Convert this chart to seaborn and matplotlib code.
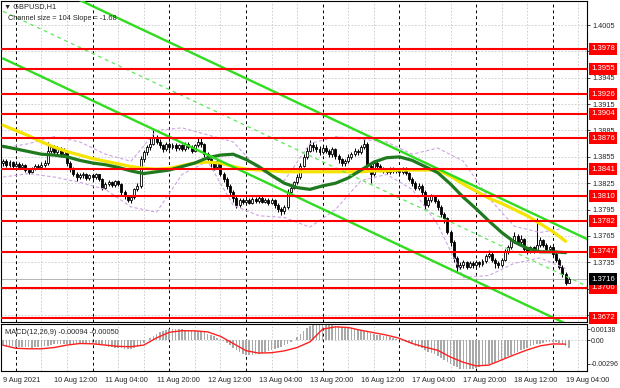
import numpy as np
import matplotlib
matplotlib.use("Agg")
import matplotlib.pyplot as plt
import matplotlib.transforms as mtransforms
import seaborn as sns

# GBPUSD H1, 9 Aug 20:00 .. 19 Aug 05:00 (prices in pips above 1.3700)
base = 1.37
first_open = 148
close_pips = [
    150, 146, 149, 145,
    147, 143, 146, 140, 138, 142, 145, 143, 146, 148, 162, 166, 160, 164, 158, 162, 148, 142, 136, 132, 134, 135, 131, 134,
    132, 135, 130, 120, 124, 126, 123, 127, 124, 115, 110, 106, 109, 118, 122, 152, 160, 166, 170, 178, 172, 168, 164, 170,
    166, 169, 165, 168, 164, 170, 166, 162, 168, 172, 170, 158, 152, 148, 144, 150, 136, 130, 122, 115, 108, 100, 106, 104,
    106, 103, 107, 105, 108, 104, 106, 103, 106, 100, 96, 93, 98, 115, 120, 126, 132, 145, 155, 162, 168, 166, 164, 160,
    165, 162, 158, 164, 156, 152, 148, 150, 155, 158, 162, 160, 166, 170, 145, 135, 148, 145, 142, 140, 138, 141, 139, 140,
    138, 141, 137, 130, 125, 120, 122, 115, 100, 106, 110, 105, 98, 90, 85, 70, 58, 40, 30, 32, 35, 30, 34, 32,
    35, 33, 36, 42, 45, 38, 34, 32, 38, 48, 52, 60, 65, 58, 62, 50, 48, 52, 49, 55, 60, 55, 50, 52,
    45, 38, 30, 22, 12, 16,
]
high_pips = [
    153, 152, 151, 150,
    150, 149, 148, 147, 142, 144, 147, 147, 149, 151, 172, 169, 168, 167, 166, 165, 163, 150, 144, 138, 137, 138, 137, 136,
    136, 137, 136, 131, 126, 129, 128, 129, 129, 125, 117, 112, 111, 120, 125, 156, 163, 168, 176, 185, 180, 175, 170, 172,
    172, 171, 171, 170, 170, 172, 172, 168, 170, 176, 177, 171, 160, 154, 150, 152, 151, 138, 132, 124, 117, 110, 108, 108,
    108, 108, 109, 109, 110, 110, 108, 108, 108, 107, 102, 98, 100, 118, 123, 128, 135, 148, 158, 166, 174, 172, 170, 167,
    168, 168, 164, 166, 165, 158, 154, 153, 158, 161, 165, 164, 169, 178, 172, 148, 151, 150, 147, 144, 142, 143, 143, 142,
    142, 143, 143, 138, 132, 127, 125, 124, 117, 109, 113, 112, 107, 100, 92, 87, 72, 60, 42, 35, 38, 37, 36, 36,
    38, 37, 39, 45, 49, 47, 40, 36, 40, 50, 55, 63, 70, 67, 66, 63, 53, 54, 54, 85, 64, 62, 57, 55,
    54, 47, 40, 32, 24, 18,
]
low_pips = [
    145, 143, 144, 142,
    143, 141, 141, 138, 135, 137, 140, 141, 142, 144, 146, 159, 157, 157, 155, 156, 145, 138, 133, 128, 130, 131, 129, 129,
    129, 130, 127, 117, 118, 122, 121, 121, 122, 112, 107, 104, 103, 107, 116, 120, 149, 157, 163, 168, 170, 165, 161, 162,
    163, 164, 162, 163, 162, 162, 164, 159, 160, 166, 166, 155, 149, 144, 140, 141, 133, 126, 118, 110, 104, 97, 98, 101,
    102, 101, 101, 103, 103, 102, 102, 100, 101, 97, 92, 89, 90, 96, 112, 118, 124, 130, 143, 153, 160, 162, 160, 157,
    158, 159, 155, 155, 153, 148, 145, 145, 148, 153, 156, 157, 158, 164, 140, 125, 133, 142, 139, 137, 136, 136, 137, 137,
    135, 136, 134, 127, 122, 117, 117, 110, 96, 98, 104, 102, 95, 86, 80, 67, 54, 35, 24, 27, 29, 27, 28, 29,
    30, 30, 31, 34, 40, 35, 29, 29, 30, 36, 45, 50, 57, 55, 55, 47, 45, 46, 46, 47, 52, 52, 47, 48,
    42, 35, 27, 18, 9, 11,
]

# MACD main (histogram), units of 1e-5
macd_main = [
    -70, -72, -74, -76, -78,
    -80, -83, -86, -88, -90, -89, -86, -82,
    -76, -66, -58, -52, -48, -46, -45, -46,
    -48, -50, -49, -46, -44, -42, -42, -44,
    -48, -55, -62, -70, -78, -86, -92, -97,
    -100, -104, -106, -104, -96, -80, -56, -28,
    0, 30, 58, 85, 105, 120, 130, 136,
    138, 139, 138, 136, 133, 130, 126, 121,
    115, 108, 98, 85, 70, 52, 34, 15,
    -5, -30, -60, -95, -125, -150, -168, -180,
    -184, -182, -176, -168, -160, -150, -138, -122,
    -106, -92, -78, -64, -45, -22, 5, 40,
    80, 120, 150, 175, 192, 200, 204, 204,
    202, 198, 192, 185, 178, 172, 165, 158,
    150, 142, 135, 128, 120, 105, 90, 80,
    72, 64, 55, 48, 40, 32, 22, 10,
    -5, -20, -35, -50, -65, -80, -100, -125,
    -145, -160, -175, -195, -215, -240, -265, -290,
    -315, -338, -355, -362, -363, -360, -354, -345,
    -335, -322, -308, -294, -280, -265, -250, -234,
    -218, -200, -180, -160, -140, -122, -105, -90,
    -76, -62, -50, -40, -32, -26, -22, -20,
    -22, -30, -45, -70, -94,
]

# moving averages and MACD signal read every 4 bars
line_bars = list(range(0, 177, 4))
green_ma = [167, 164, 161, 158, 157, 155, 151, 148, 146, 143, 139,
            136, 138, 140, 144, 148, 154, 157, 158, 152, 144, 134,
            125, 120, 118, 122, 125, 131, 140, 149, 154, 155, 151,
            144, 137, 124, 109, 96, 82, 69, 58, 51, 47, 47, 46]
yellow_ma = [191, 185, 179, 172, 166, 161, 157, 153, 150, 147, 144,
             142, 141, 142, 145, 148, 149, 148, 144, 141, 140, 139,
             138, 138, 138, 138, 138, 138, 138, 139, 139, 140, 140,
             140, 140, 133, 124, 116, 108, 102, 95, 88, 79, 70, 59]
signal = [-62, -100, -106, -106, -90, -60, -40, -44, -60, -76, -80,
          -60, 30, 100, 120, 118, 105, 50, -40, -130, -160, -155,
          -132, -90, -20, 140, 168, 160, 125, 95, 65, 25, -40,
          -85, -125, -210, -275, -320, -310, -245, -180, -120, -70, -45, -48]

# bollinger bands read every 8 bars
band_bars = list(range(0, 177, 8))
upper_bb = [165, 170, 178, 172, 158, 150, 185, 188, 180, 172, 140, 128, 170, 178, 175, 172, 158, 165, 150, 108, 76, 69, 74]
lower_bb = [132, 136, 132, 126, 118, 98, 92, 135, 150, 100, 88, 86, 75, 95, 128, 135, 118, 78, 18, 20, 34, 40, 28]

# regression channel (pips at first bar and at right edge)
ch_bars = [0, 183]
ch_upper = [374.4, 61.0]
ch_mid = [320.6, 7.3]
ch_lower = [266.9, -46.6]

levels = [1.3978, 1.3955, 1.3926, 1.3904, 1.3876, 1.3841, 1.3810, 1.3782, 1.3747, 1.3706, 1.3672]
price_ticks = [1.4005, 1.3975, 1.3945, 1.3915, 1.3885, 1.3855, 1.3825, 1.3795, 1.3765, 1.3735, 1.3705, 1.3675]
hidden_ticks = [1.3705, 1.3675]  # covered by the level boxes
bid = 1.3716

tick_bars = [0, 16, 32, 48, 64, 80, 96, 112, 128, 144, 160, 176]
tick_labels = ["9 Aug 2021", "10 Aug 12:00", "11 Aug 04:00", "11 Aug 20:00", "12 Aug 12:00", "13 Aug 04:00",
               "13 Aug 20:00", "16 Aug 12:00", "17 Aug 04:00", "17 Aug 20:00", "18 Aug 12:00", "19 Aug 04:00"]
sep_bars = [4, 28, 52, 76, 100, 124, 148, 172]
grid_bars = [12, 20, 36, 44, 60, 68, 84, 92, 108, 116, 132, 140, 156, 164, 180]

assert len(close_pips) == len(high_pips) == len(low_pips) == len(macd_main) == 178
assert len(green_ma) == len(yellow_ma) == len(signal) == len(line_bars)


def px(p):
    return base + np.asarray(p, dtype=float) / 1e4


sns.set_style("white")
plt.rcParams['font.family'] = ['Liberation Sans', 'DejaVu Sans']
fs = 5.3

fig = plt.figure(figsize=(6.2, 3.88), dpi=100)
ax = fig.add_axes([1 / 620, 1 - 322 / 388, 586 / 620, 321 / 388])
ax2 = fig.add_axes([1 / 620, 1 - 371 / 388, 586 / 620, 47 / 388])

bars = np.arange(len(close_pips))
cl = px(close_pips)
op = px([first_open] + close_pips[:-1])
hi = px(high_pips)
lo = px(low_pips)
xlim = (-0.66, 182.7)

# grid and day separators
for a in (ax, ax2):
    for b in grid_bars:
        a.axvline(b, color='#c8c8c8', lw=0.6, ls=(0, (2, 2)), zorder=0.5)
    for b in sep_bars:
        a.axvline(b, color='black', lw=0.7, ls=(0, (3, 3)), zorder=0.6)
for t in price_ticks:
    ax.axhline(t, color='#c8c8c8', lw=0.6, ls=(0, (2, 2)), zorder=0.5)

# candles
up = cl >= op
ax.vlines(bars, lo, hi, color='black', lw=0.75, zorder=2)
ax.bar(bars[up], (cl - op)[up], bottom=op[up], width=0.62, facecolor='white',
       edgecolor='black', linewidth=0.6, zorder=2.2)
ax.bar(bars[~up], (cl - op)[~up], bottom=op[~up], width=0.62, facecolor='black',
       edgecolor='black', linewidth=0.6, zorder=2.2)

# bollinger bands, moving averages
for band in (upper_bb, lower_bb):
    sns.lineplot(x=band_bars, y=px(band), ax=ax, color='#cfa3e6', linewidth=0.8,
                 linestyle=(0, (3, 2)), zorder=2.5)
sns.lineplot(x=line_bars, y=px(yellow_ma), ax=ax, color='#f5e400', linewidth=2.3, zorder=3)
sns.lineplot(x=line_bars, y=px(green_ma), ax=ax, color='#1f7a1f', linewidth=2.3, zorder=3.1)

# channel
sns.lineplot(x=ch_bars, y=px(ch_upper), ax=ax, color='#2fdc1e', linewidth=1.7, zorder=3.5)
sns.lineplot(x=ch_bars, y=px(ch_lower), ax=ax, color='#2fdc1e', linewidth=1.7, zorder=3.5)
sns.lineplot(x=ch_bars, y=px(ch_mid), ax=ax, color='#5ee85a', linewidth=0.9,
             linestyle=(0, (3, 3)), zorder=3.5)

# levels
ax.axhline(bid, color='#a8a8a8', lw=0.6, zorder=1)
for lv in levels:
    ax.axhline(lv, color='#ff0000', lw=1.5, zorder=4)

ax.set_xlim(*xlim)
ax.set_ylim(1.366711, 1.403231)
ax.set_xticks([])
ax.yaxis.tick_right()
ax.set_yticks(price_ticks)
ax.set_yticklabels(["" if t in hidden_ticks else f"{t:.4f}" for t in price_ticks])
ax.tick_params(axis='y', labelsize=fs, length=2.5, width=0.6, pad=1.5, direction='out')
ax.set_xlabel('')
ax.set_ylabel('')

box_fs = 5.6
trans = mtransforms.blended_transform_factory(ax.transAxes, ax.transData)
for lv in levels:
    ax.text(1 + 4 / 586, lv, f"{lv:.4f}", transform=trans, color='white', fontsize=box_fs,
            va='center', ha='left', clip_on=False, zorder=6,
            bbox=dict(boxstyle='square,pad=0.32', fc='#ff0000', ec='none'))
ax.text(1 + 4 / 586, bid, f"{bid:.4f}", transform=trans, color='white', fontsize=box_fs,
        va='center', ha='left', clip_on=False, zorder=6,
        bbox=dict(boxstyle='square,pad=0.32', fc='black', ec='none'))

fig.text(4 / 620, 1 - 7 / 388, "\u25bc GBPUSD,H1", fontsize=fs, va='center', ha='left')
fig.text(8 / 620, 1 - 18 / 388, "Channel size = 104 Slope = -1.68", fontsize=fs, va='center', ha='left')

# MACD panel
ax2.bar(bars, np.array(macd_main) / 1e5, width=0.5, color='#a9a9a9', linewidth=0, zorder=2)
sns.lineplot(x=line_bars, y=np.array(signal) / 1e5, ax=ax2, color='#ff2020', linewidth=1.0, zorder=3)
ax2.axhline(0, color='#c8c8c8', lw=0.6, ls=(0, (2, 2)), zorder=0.5)
ax2.set_xlim(*xlim)
ax2.set_ylim(-0.0038375, 0.0020375)
ax2.yaxis.tick_right()
ax2.set_yticks([0.00138, 0.0, -0.00296])
ax2.set_yticklabels(["0.00138", "0.00", "-0.00296"])
ax2.set_xticks(tick_bars)
ax2.set_xticklabels(tick_labels, ha='left')
ax2.tick_params(axis='x', labelsize=fs, length=2.5, width=0.6, pad=1.5, direction='out')
ax2.tick_params(axis='y', labelsize=5.0, length=2, width=0.6, pad=1, direction='out')
ax2.set_xlabel('')
ax2.set_ylabel('')
ax2.text(4 / 586, 0.81, "MACD(12,26,9) -0.00094 -0.00050", transform=ax2.transAxes,
         fontsize=fs, va='center', ha='left')

for a in (ax, ax2):
    for s in a.spines.values():
        s.set_color('black')
        s.set_linewidth(0.8)

fig.savefig("out.png", dpi=100)
